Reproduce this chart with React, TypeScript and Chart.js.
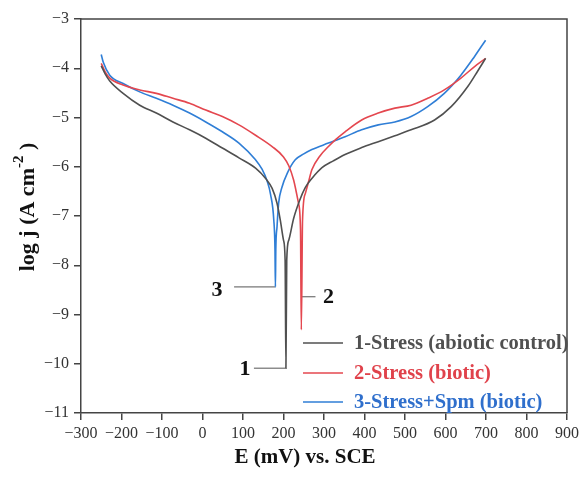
import React, { useEffect, useRef } from 'react';
import { Chart, registerables } from 'chart.js';

Chart.register(...registerables);

// Series 1 – Stress (abiotic control)
const E1 = [-250, -240, -229, -196, -155, -114, -73, -32, 8, 49, 90, 131, 156, 172, 184, 192, 200, 204, 206, 208, 213, 225, 240, 254, 270, 295, 323, 352, 393, 434, 475, 515, 573, 614, 655, 680, 699];
const J1 = [-3.95, -4.12, -4.26, -4.51, -4.75, -4.91, -5.09, -5.25, -5.42, -5.62, -5.82, -6.03, -6.24, -6.44, -6.74, -7.08, -7.49, -7.9, -10.09, -7.9, -7.49, -7.05, -6.68, -6.42, -6.24, -6.02, -5.88, -5.75, -5.61, -5.49, -5.37, -5.25, -5.05, -4.78, -4.37, -4.05, -3.8];

// Series 2 – Stress (biotic)
const E2 = [-250, -240, -229, -196, -155, -114, -73, -32, 8, 49, 90, 131, 172, 200, 213, 225, 237, 242, 244, 247, 254, 262, 270, 290, 311, 330, 352, 393, 434, 475, 515, 556, 597, 638, 671, 699];
const J2 = [-3.9, -4.08, -4.2, -4.34, -4.44, -4.51, -4.61, -4.71, -4.85, -4.98, -5.15, -5.36, -5.59, -5.8, -5.98, -6.27, -6.74, -7.28, -9.31, -7.08, -6.54, -6.3, -6.06, -5.78, -5.59, -5.44, -5.29, -5.05, -4.91, -4.81, -4.75, -4.61, -4.44, -4.2, -3.97, -3.8];

// Series 3 – Stress+Spm (biotic)
const E3 = [-250, -245, -229, -196, -155, -114, -73, -32, 8, 49, 90, 131, 147, 160, 168, 176, 179, 180, 181, 184, 188, 196, 210, 229, 250, 270, 311, 352, 393, 434, 475, 515, 556, 597, 638, 671, 699];
const J3 = [-3.72, -3.88, -4.14, -4.31, -4.48, -4.61, -4.75, -4.91, -5.09, -5.29, -5.52, -5.86, -6.05, -6.3, -6.56, -7.08, -7.69, -8.44, -7.69, -7.22, -6.74, -6.42, -6.12, -5.86, -5.74, -5.65, -5.52, -5.39, -5.25, -5.15, -5.09, -4.98, -4.78, -4.51, -4.14, -3.77, -3.43];

// Annotation connectors (E, log j)
const CONN1_E = [127, 206];
const CONN1_J = [-10.09, -10.09];
const CONN2_E = [244, 279];
const CONN2_J = [-8.64, -8.64];
const CONN3_E = [78, 180];
const CONN3_J = [-8.44, -8.44];

// Annotation numbers
const NOTE_TEXT = ['1', '2', '3'];
const NOTE_E = [105, 311, 36];
const NOTE_J = [-10.09, -8.64, -8.48];

const LEGEND_LABELS = ['1-Stress (abiotic control)', '2-Stress (biotic)', '3-Stress+Spm (biotic)'];
const COLORS = ['#505050', '#e4474f', '#2f7ed6'];
const TEXT_COLORS = ['#505050', '#e0424b', '#2f6fcc'];

const X_MIN = -300, X_MAX = 900, X_STEP = 100;
const Y_MIN = -11, Y_MAX = -3, Y_STEP = 1;

const SERIF = '"Liberation Serif", "Times New Roman", serif';

const pts = (xs: number[], ys: number[]) => xs.map((x, i) => ({ x, y: ys[i] }));

const overlay = {
  id: 'overlay',
  afterDraw(chart: any) {
    const { ctx, chartArea: ca, scales } = chart;
    const xs = scales.x, ys = scales.y;
    ctx.save();
    // frame top & right
    ctx.strokeStyle = '#444';
    ctx.lineWidth = 1.5;
    ctx.beginPath();
    ctx.moveTo(ca.left, ca.top);
    ctx.lineTo(ca.right, ca.top);
    ctx.lineTo(ca.right, ca.bottom);
    ctx.stroke();

    // annotation numbers
    ctx.fillStyle = '#111';
    ctx.font = `bold 22px ${SERIF}`;
    ctx.textAlign = 'center';
    ctx.textBaseline = 'middle';
    NOTE_TEXT.forEach((t, i) => {
      ctx.fillText(t, xs.getPixelForValue(NOTE_E[i]), ys.getPixelForValue(NOTE_J[i]) + 1);
    });

    // legend
    const lx0 = ca.left + 222, lx1 = ca.left + 262, tx = ca.left + 273;
    const rows = [ca.top + 324, ca.top + 354, ca.top + 383];
    ctx.font = `bold 20.5px ${SERIF}`;
    ctx.textAlign = 'left';
    LEGEND_LABELS.forEach((lab, i) => {
      ctx.strokeStyle = COLORS[i];
      ctx.lineWidth = 1.5;
      ctx.beginPath();
      ctx.moveTo(lx0, rows[i]);
      ctx.lineTo(lx1, rows[i]);
      ctx.stroke();
      ctx.fillStyle = TEXT_COLORS[i];
      ctx.fillText(lab, tx, rows[i] + 1);
    });

    // x title
    ctx.fillStyle = '#111';
    ctx.font = `bold 21px ${SERIF}`;
    ctx.textAlign = 'center';
    ctx.fillText('E (mV) vs. SCE', 305, 458);

    // y title with superscript
    ctx.translate(28, 207);
    ctx.rotate(-Math.PI / 2);
    const mainFont = `bold 22px ${SERIF}`;
    const supFont = `bold 15px ${SERIF}`;
    const p1 = 'log j (A cm', p2 = '-2', p3 = ' )';
    ctx.font = mainFont;
    const w1 = ctx.measureText(p1).width;
    const w3 = ctx.measureText(p3).width;
    ctx.font = supFont;
    const w2 = ctx.measureText(p2).width;
    let cx = -(w1 + w2 + w3) / 2;
    ctx.textAlign = 'left';
    ctx.font = mainFont;
    ctx.fillText(p1, cx, 0);
    cx += w1;
    ctx.font = supFont;
    ctx.fillText(p2, cx, -9);
    cx += w2;
    ctx.font = mainFont;
    ctx.fillText(p3, cx, 0);
    ctx.restore();
  },
};

const minus = (v: any) => String(v).replace('-', '\u2212');

export default function App() {
  const ref = useRef<HTMLCanvasElement>(null);
  useEffect(() => {
    if (!ref.current) return;
    const line = (data: any, color: string, width = 1.6) => ({
      data,
      borderColor: color,
      borderWidth: width,
      pointRadius: 0,
      fill: false,
      cubicInterpolationMode: 'monotone' as const,
    });
    const chart = new Chart(ref.current, {
      type: 'line',
      data: {
        datasets: [
          line(pts(E1, J1), COLORS[0]),
          line(pts(E2, J2), COLORS[1]),
          line(pts(E3, J3), COLORS[2]),
          { ...line(pts(CONN1_E, CONN1_J), '#555', 1), cubicInterpolationMode: 'default' as const },
          { ...line(pts(CONN2_E, CONN2_J), '#555', 1), cubicInterpolationMode: 'default' as const },
          { ...line(pts(CONN3_E, CONN3_J), '#555', 1), cubicInterpolationMode: 'default' as const },
        ],
      },
      options: {
        animation: false,
        responsive: false,
        layout: { padding: { top: 19, right: 12, left: 0, bottom: 0 } },
        plugins: { legend: { display: false }, tooltip: { enabled: false }, title: { display: false } },
        scales: {
          x: {
            type: 'linear',
            min: X_MIN,
            max: X_MAX,
            afterFit: (s: any) => { s.height = 68; },
            ticks: { stepSize: X_STEP, color: '#333', padding: 4, font: { family: SERIF, size: 16 }, callback: minus, maxRotation: 0 },
            grid: { display: true, drawOnChartArea: false, drawTicks: true, tickLength: 7, color: '#444', lineWidth: 1.5 },
            border: { display: true, color: '#444', width: 1.5 },
          },
          y: {
            type: 'linear',
            min: Y_MIN,
            max: Y_MAX,
            afterFit: (s: any) => { s.width = 81; },
            ticks: { stepSize: Y_STEP, color: '#333', padding: 5, font: { family: SERIF, size: 16 }, callback: minus },
            grid: { display: true, drawOnChartArea: false, drawTicks: true, tickLength: 7, color: '#444', lineWidth: 1.5 },
            border: { display: true, color: '#444', width: 1.5 },
          },
        },
      },
      plugins: [overlay],
    });
    return () => chart.destroy();
  }, []);
  return (
    <div style={{ position: 'fixed', left: 0, top: 0, width: 583, height: 481, background: '#fff' }}>
      <canvas ref={ref} width={583} height={481} />
    </div>
  );
}
